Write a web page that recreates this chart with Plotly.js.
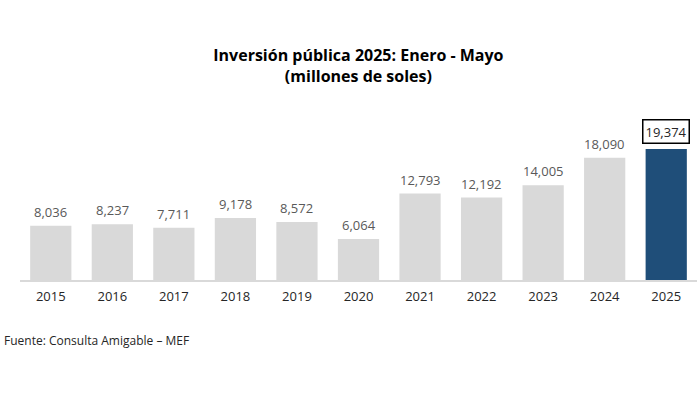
<!DOCTYPE html>
<html>
<head>
<meta charset="utf-8">
<script src="https://cdn.plot.ly/plotly-3.0.1.min.js"></script>
<style>html,body{margin:0;padding:0;background:#fff;}#chart{width:700px;height:395px;}</style>
</head>
<body>
<div id="chart"></div>
<script>
const years = ['2015','2016','2017','2018','2019','2020','2021','2022','2023','2024','2025'];
const values = [8036, 8237, 7711, 9178, 8572, 6064, 12793, 12192, 14005, 18090, 19374];
const highlightYear = '2025';

const FONT = 'Open Sans, Lato, sans-serif';
const idx = years.map((_, i) => i);
const colors = years.map(y => y === highlightYear ? '#1f4e79' : '#d9d9d9');

const trace = {
  type: 'bar',
  x: idx,
  y: values,
  marker: {color: colors},
  hoverinfo: 'y'
};

const annotations = years.map((yr, i) => {
  const hl = yr === highlightYear;
  return {
    x: i, y: values[i], xref: 'x', yref: 'y',
    text: values[i].toLocaleString('en-US'),
    showarrow: false, yanchor: 'bottom', yshift: hl ? 5 : 5,
    font: {family: FONT, size: 13, color: hl ? '#262626' : '#595959'},
    bordercolor: hl ? '#000000' : 'rgba(0,0,0,0)',
    borderwidth: hl ? 1.5 : 0,
    borderpad: hl ? 2 : 0,
    bgcolor: hl ? '#ffffff' : 'rgba(0,0,0,0)'
  };
});

annotations.push({
  xref: 'paper', yref: 'paper', x: -0.027, y: -0.36,
  xanchor: 'left', yanchor: 'middle', showarrow: false,
  text: 'Fuente: Consulta Amigable – MEF',
  font: {family: FONT, size: 12, color: '#262626'}
});

const layout = {
  width: 700, height: 395,
  margin: {l: 20, r: 3, t: 111, b: 115},
  paper_bgcolor: '#ffffff', plot_bgcolor: '#ffffff',
  title: {
    text: '<b>Inversión pública 2025: Enero - Mayo<br>(millones de soles)</b>',
    font: {family: FONT, size: 16, color: '#000000'},
    x: 0.512, xanchor: 'center', y: 0.845, yanchor: 'middle'
  },
  bargap: 0.33,
  showlegend: false,
  xaxis: {
    range: [-0.5, years.length - 0.5],
    tickmode: 'array', tickvals: idx, ticktext: years,
    showline: true, linecolor: '#d9d9d9', linewidth: 1.5,
    ticks: '', showgrid: false, zeroline: false,
    ticklabelstandoff: 4,
    tickfont: {family: FONT, size: 13, color: '#262626'}
  },
  yaxis: {
    range: [0, 25000], visible: false, showgrid: false, zeroline: false
  },
  annotations: annotations
};

Plotly.newPlot('chart', [trace], layout, {displayModeBar: false, staticPlot: true});
</script>
</body>
</html>
